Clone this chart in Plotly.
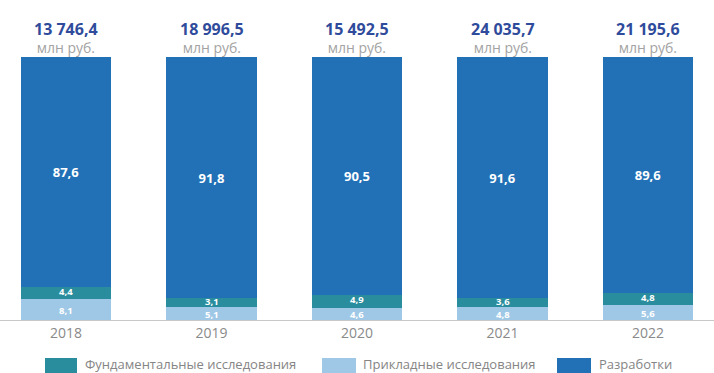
import plotly.graph_objects as go

years = ["2018", "2019", "2020", "2021", "2022"]
totals = [13746.4, 18996.5, 15492.5, 24035.7, 21195.6]  # млн руб.
applied = [8.1, 5.1, 4.6, 4.8, 5.6]          # Прикладные исследования, %
fundamental = [4.4, 3.1, 4.9, 3.6, 4.8]      # Фундаментальные исследования, %
development = [87.6, 91.8, 90.5, 91.6, 89.6]  # Разработки, %

FONT = "Open Sans, Noto Sans, sans-serif"
C_APPLIED, C_FUND, C_DEV = "#9fc8e6", "#2a8d9e", "#2271b6"


def ru(v, nd=1):
    s = f"{v:,.{nd}f}"
    return s.replace(",", " ").replace(".", ",")


fig = go.Figure()
fig.add_trace(go.Bar(x=years, y=applied, name="Прикладные исследования",
                     marker=dict(color=C_APPLIED, line=dict(width=0)),
                     width=0.62, hoverinfo="skip", showlegend=False))
fig.add_trace(go.Bar(x=years, y=fundamental, name="Фундаментальные исследования",
                     marker=dict(color=C_FUND, line=dict(width=0)),
                     width=0.62, hoverinfo="skip", showlegend=False))
fig.add_trace(go.Bar(x=years, y=development, name="Разработки",
                     marker=dict(color=C_DEV, line=dict(width=0)),
                     width=0.62, hoverinfo="skip", showlegend=False,
                     text=[ru(v) for v in development],
                     textposition="inside", insidetextanchor="middle",
                     textangle=0, constraintext="none",
                     textfont=dict(family=FONT, size=13, color="white", weight="bold")))

# labels of the two thin lower segments, nudged apart a little
for i, (a, f) in enumerate(zip(applied, fundamental)):
    fig.add_annotation(x=i, y=a / 2, xref="x", yref="y", text=f"<b>{ru(a)}</b>",
                       showarrow=False, yanchor="middle", yshift=-1, borderpad=0,
                       font=dict(family=FONT, size=9.5, color="white"))
    fig.add_annotation(x=i, y=a + f / 2, xref="x", yref="y", text=f"<b>{ru(f)}</b>",
                       showarrow=False, yanchor="middle", yshift=1.5, borderpad=0,
                       font=dict(family=FONT, size=9.5, color="white"))

W, H = 714, 373
TOP, BASE = 57, 320
PH = BASE - TOP


def py(px):
    """pixel row -> paper y"""
    return (BASE - px) / PH


# totals above each column (value + unit as one two-line label)
for i, t in enumerate(totals):
    fig.add_annotation(
        x=i, y=py(37), xref="x", yref="paper",
        text=(f"<span style='font-size:16px;color:#2f4b9b'><b>{ru(t)}</b></span><br>"
              f"<span style='color:#a3a3a3'>млн руб.</span>"),
        showarrow=False, yanchor="middle", borderpad=0,
        font=dict(family=FONT, size=14, color="#a3a3a3"))

# legend drawn as wide swatches
legend_items = [
    ("Фундаментальные исследования", C_FUND, 45, 77, 83),
    ("Прикладные исследования", C_APPLIED, 322, 356, 361),
    ("Разработки", C_DEV, 557, 591, 597),
]
for label, color, x0, x1, tx in legend_items:
    fig.add_shape(type="rect", xref="paper", yref="paper",
                  x0=x0 / W, x1=x1 / W,
                  y0=py(373), y1=py(358),
                  fillcolor=color, line=dict(width=0), layer="above")
    fig.add_annotation(x=tx / W, y=py(364), xref="paper", yref="paper",
                       text=label, showarrow=False, xanchor="left", yanchor="middle",
                       font=dict(family=FONT, size=13, color="#858585"))

fig.update_layout(
    barmode="stack",
    width=W, height=H,
    margin=dict(l=0, r=0, t=TOP, b=H - BASE),
    paper_bgcolor="white",
    plot_bgcolor="white",
    separators=", ",
    xaxis=dict(
        type="category",
        range=[-0.4536, 4.4536],
        showline=True, linecolor="#c8c8c8", linewidth=1,
        ticks="", showgrid=False, zeroline=False,
        tickfont=dict(family=FONT, size=14, color="#8a8a8a"),
        fixedrange=True,
    ),
    yaxis=dict(range=[0, 100.1], visible=False, fixedrange=True),
)

fig.write_html("out.html")
